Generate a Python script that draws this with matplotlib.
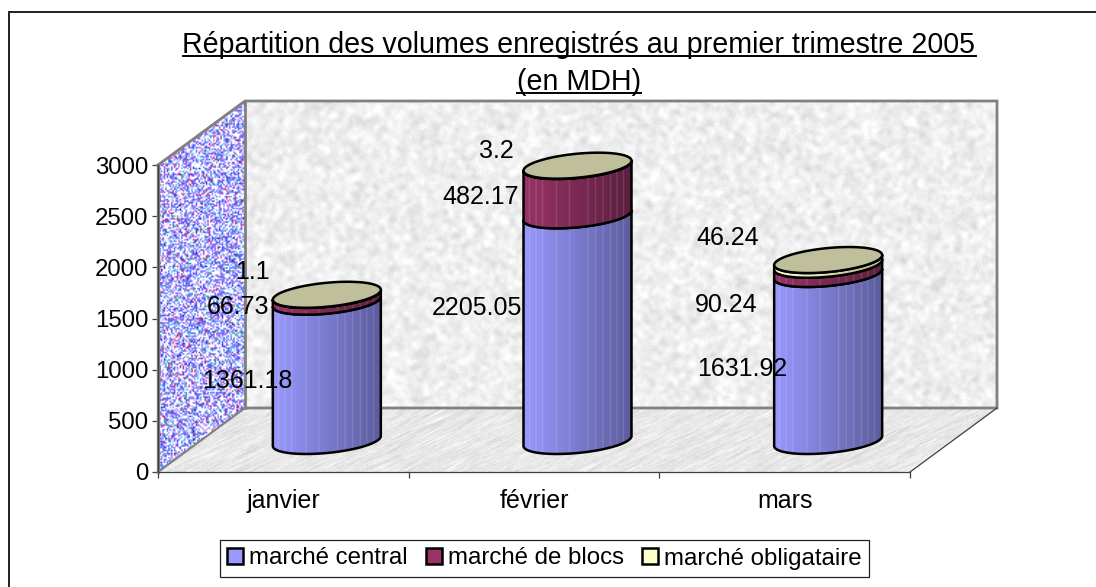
import numpy as np
import matplotlib
matplotlib.use('Agg')
import matplotlib.pyplot as plt
from matplotlib.patches import Patch, Polygon, Rectangle
from matplotlib.lines import Line2D

plt.rcParams['font.family'] = ['Liberation Sans', 'DejaVu Sans']

months = ['janvier', 'février', 'mars']
series_names = ['marché central', 'marché de blocs', 'marché obligataire']
central = [1361.18, 2205.05, 1631.92]
blocs = [66.73, 482.17, 90.24]
obligataire = [1.1, 3.2, 46.24]
yticks = [0, 500, 1000, 1500, 2000, 2500, 3000]

W, H = 1096, 587
# front plane of the 3d box, in pixels
X0, X1, Y0, Y1 = 158, 910, 472, 165
px_x = 3 / (X1 - X0)
px_y = 3000 / (Y0 - Y1)

# depth of the box and of the cylinder centres
wall_dx, wall_dy = 87 * px_x, 64 * px_y
cyl_dx, cyl_dy = 43.5 * px_x, 31 * px_y
# cylinder ellipse shape
a, b, shear = 54 * px_x, 12 * px_y, 5 * px_y

# label offsets from segment centre, pixels: (central, blocs, obligataire)
label_offsets = [
    [(-80, -10), (-89, -9), (-74, 23)],
    [(-101, 20), (-97, -6), (-81, 15)],
    [(-86, -11), (-102, -36), (-100, 24)],
]
side_colors = [('#9999FF', '#5C5C9C'), ('#993366', '#5A1F3E'), ('#FFFFCC', '#B5B58F')]
top_color = '#BFBF9B'
stripes = [0.05, 0.11, 0.17, 0.3, 0.42, 0.59, 0.66, 0.73, 0.8, 0.86, 0.92]

rng = np.random.default_rng(5)


def hex_rgb(c):
    return np.array(matplotlib.colors.to_rgb(c))


def blur(n, size, axis):
    out = np.zeros_like(n)
    for i in range(-size, size + 1):
        out += np.roll(n, i, axis)
    return out / np.sqrt(2 * size + 1)


def texture_back(rows, cols):
    n = rng.normal(size=(rows, cols))
    big = blur(blur(blur(blur(n, 2, 0), 2, 1), 2, 0), 2, 1)
    big = big / big.std()
    g = 0.935 + 0.025 * big + 0.012 * rng.normal(size=n.shape)
    return np.clip(g, 0, 1)


def texture_floor(rows, cols):
    n = rng.normal(size=(rows, cols))
    streak = np.zeros_like(n)
    for i in range(-8, 9):
        streak += np.roll(np.roll(n, i, 1), i // 2, 0)
    streak = streak / streak.std()
    g = 0.91 + 0.03 * streak + 0.01 * rng.normal(size=n.shape)
    return np.clip(g, 0, 1)


def texture_side(rows, cols):
    pal = np.array([[1, 1, 1], [1, 1, 1], [.85, .9, 1], [.3, .35, 1], [.45, .6, 1],
                    [.7, .45, .95], [.55, .3, .85], [.4, .85, 1], [.95, .1, .2], [.1, .75, .4], [.2, .1, .7]])
    p = [.24, .14, .1, .13, .13, .1, .07, .04, .02, .015, .015]
    return pal[rng.choice(len(pal), size=(rows, cols), p=p)]


def clipped_image(ax, arr, extent, poly, zorder, **kw):
    im = ax.imshow(arr, extent=extent, aspect='auto', origin='lower', zorder=zorder, **kw)
    poly.set_transform(ax.transData)
    im.set_clip_box(ax.figure.bbox)
    im.set_clip_path(poly)
    return im


def ring(center, value, t):
    xs = center + cyl_dx + a * np.cos(t)
    ys = value + cyl_dy + b * np.sin(t) + shear * np.cos(t)
    return xs, ys


def side_gradient(left, right):
    f = np.linspace(0, 1, 216)
    grad = hex_rgb(left)[None, :] * (1 - f[:, None]) + hex_rgb(right)[None, :] * f[:, None]
    for s in stripes:
        k = int(s * 216)
        grad[k:k + 2] = grad[k:k + 2] * 0.84 + 0.16
    return grad[None, :, :]


def draw_segment(ax, center, bottom, top, colors, zorder):
    t = np.linspace(np.pi, 2 * np.pi, 80)
    xb, yb = ring(center, bottom, t)
    xt, yt = ring(center, top, t[::-1])
    pts = np.column_stack([np.r_[xb, xt], np.r_[yb, yt]])
    extent = [center + cyl_dx - a, center + cyl_dx + a, bottom - 500, top + 500]
    clipped_image(ax, side_gradient(*colors), extent, Polygon(pts), zorder, interpolation='bilinear')
    ax.add_patch(Polygon(pts, closed=True, fill=False, edgecolor='black', linewidth=1.8,
                         joinstyle='round', clip_on=False, zorder=zorder + 0.1))


def underlined(fig, x, y, s, size):
    t = fig.text(x / W, 1 - y / H, s, ha='center', va='baseline', fontsize=size, color='black')
    bb = t.get_window_extent(fig.canvas.get_renderer())
    yl = 1 - (y + 2.5) / H
    fig.add_artist(Line2D([bb.x0 / W, bb.x1 / W], [yl, yl], color='black', linewidth=1.4))


fig = plt.figure(figsize=(W / 100, H / 100), dpi=100, facecolor='white')
ax = fig.add_axes([X0 / W, 1 - Y0 / H, (X1 - X0) / W, (Y0 - Y1) / H])
ax.patch.set_visible(False)

# outer chart frame, runs off the right and bottom of the picture
fig.add_artist(Rectangle((9 / W, -0.05), 1.2, 1.05 - 12 / H, transform=fig.transFigure,
                         fill=False, edgecolor='#202020', linewidth=1.4))

ymax = yticks[-1]
back = [(wall_dx, wall_dy), (3 + wall_dx, wall_dy), (3 + wall_dx, ymax + wall_dy), (wall_dx, ymax + wall_dy)]
floor = [(0, 0), (3, 0), (3 + wall_dx, wall_dy), (wall_dx, wall_dy)]
side = [(0, 0), (wall_dx, wall_dy), (wall_dx, ymax + wall_dy), (0, ymax)]

clipped_image(ax, texture_back(310, 755), [wall_dx, 3 + wall_dx, wall_dy, ymax + wall_dy],
              Polygon(back), 1, cmap='gray', vmin=0, vmax=1, interpolation='bilinear')
clipped_image(ax, texture_floor(66, 840), [0, 3 + wall_dx, 0, wall_dy],
              Polygon(floor), 1, cmap='gray', vmin=0, vmax=1, interpolation='bilinear')
clipped_image(ax, texture_side(250, 60), [0, wall_dx, 0, ymax + wall_dy],
              Polygon(side), 1, interpolation='bilinear')

# wall outlines
ax.plot([0, wall_dx, 3 + wall_dx, 3 + wall_dx, wall_dx], [ymax, ymax + wall_dy, ymax + wall_dy, wall_dy, wall_dy],
        color='#808080', linewidth=2.0, clip_on=False, zorder=2, solid_joinstyle='miter')
ax.plot([wall_dx, wall_dx], [ymax + wall_dy, wall_dy], color='#808080', linewidth=2.0, clip_on=False, zorder=2)
ax.plot([0, wall_dx], [0, wall_dy], color='#808080', linewidth=1.5, clip_on=False, zorder=2)
ax.plot([0, 0], [0, ymax], color='#808080', linewidth=2.4, clip_on=False, zorder=2)
ax.plot([3, 3 + wall_dx], [0, wall_dy], color='#404040', linewidth=0.9, clip_on=False, zorder=2)

values = np.array([central, blocs, obligataire])
for i, month in enumerate(months):
    center = i + 0.5
    base = 0
    z = 3
    for j in range(3):
        top = base + values[j, i]
        draw_segment(ax, center, base, top, side_colors[j], z)
        z += 1
        base = top
    t = np.linspace(0, 2 * np.pi, 160)
    xs, ys = ring(center, base, t)
    ax.add_patch(Polygon(np.column_stack([xs, ys]), closed=True, facecolor=top_color, edgecolor='black',
                         linewidth=1.8, clip_on=False, zorder=z))

    base = 0
    for j in range(3):
        mid = base + values[j, i] / 2
        base += values[j, i]
        ax.annotate(str(values[j, i]), xy=(center + cyl_dx, mid + cyl_dy), xytext=label_offsets[i][j],
                    textcoords='offset pixels', ha='center', va='center', fontsize=18,
                    color='black', annotation_clip=False, zorder=20)

ax.set_xlim(0, 3)
ax.set_ylim(0, ymax)
ax.set_yticks(yticks)
ax.set_xticks([0, 1, 2, 3])
ax.set_xticklabels([])
ax.set_xticks([0.5, 1.5, 2.5], labels=months, minor=True)
ax.tick_params(axis='y', which='major', labelsize=17.3, length=4.5, width=0.9, color='#404040', pad=2.5)
ax.tick_params(axis='x', which='major', length=4.5, width=0.9, color='#404040')
ax.tick_params(axis='x', which='minor', length=0, labelsize=18, pad=12)
for name in ['top', 'right']:
    ax.spines[name].set_visible(False)
for name in ['left', 'bottom']:
    ax.spines[name].set_color('#404040')
    ax.spines[name].set_linewidth(0.9)
    ax.spines[name].set_zorder(2.5)

underlined(fig, 579, 53, 'Répartition des volumes enregistrés au premier trimestre 2005', 20.6)
underlined(fig, 579, 90, '(en MDH)', 20.6)

handles = [Patch(facecolor=c[0], edgecolor='black', linewidth=1.8) for c in side_colors]
leg = fig.legend(handles, series_names, loc='center', bbox_to_anchor=(544.5 / W, 1 - 558.5 / H), ncol=3,
                 fontsize=17.3, frameon=True, fancybox=False, edgecolor='#202020', framealpha=1,
                 handlelength=0.67, handleheight=0.67, handletextpad=0.25, columnspacing=0.75,
                 borderpad=0.3, borderaxespad=0)
leg.get_frame().set_linewidth(0.9)

fig.savefig('out.png', dpi=100)
